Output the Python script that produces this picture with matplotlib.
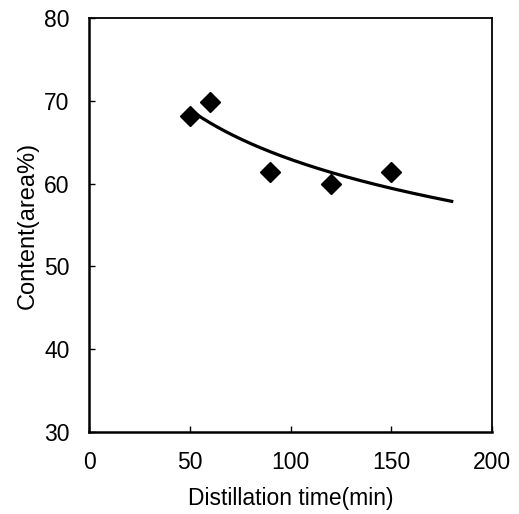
import numpy as np
import matplotlib
matplotlib.use("Agg")
import matplotlib.pyplot as plt

plt.rcParams['font.family'] = ['Liberation Sans', 'DejaVu Sans']

time_min = [50, 60, 90, 120, 150]
content = [68.2, 69.9, 61.4, 60.0, 61.4]
x_ticks = [0, 50, 100, 150, 200]
y_ticks = [30, 40, 50, 60, 70, 80]

fig = plt.figure(figsize=(5.19, 5.14), dpi=100)
ax = fig.add_axes([0.1715, 0.1595, 0.7765, 0.8055])

# logarithmic trendline fitted to the data
a, b = np.polyfit(np.log(time_min), content, 1)
xt = np.linspace(min(time_min), 180, 200)
ax.plot(xt, a * np.log(xt) + b, color='black', lw=2.3, zorder=2)

ax.plot(time_min, content, linestyle='none', marker='D', markersize=10.5,
        color='black', zorder=3)

ax.set_xlim(0, 200)
ax.set_ylim(30, 80)
ax.set_xticks(x_ticks)
ax.set_yticks(y_ticks)
ax.tick_params(axis='x', direction='in', length=4.5, width=1, labelsize=16.5, pad=14)
ax.tick_params(axis='y', direction='in', length=4.5, width=1, labelsize=16.5, pad=14)
for s in ax.spines.values():
    s.set_linewidth(1.3)
ax.spines['left'].set_linewidth(1.8)
ax.spines['bottom'].set_linewidth(1.8)

ax.set_xlabel('Distillation time(min)', fontsize=16.5, labelpad=9)
ax.set_ylabel('Content(area%)', fontsize=17, labelpad=4)

fig.savefig('out.png', dpi=100)
